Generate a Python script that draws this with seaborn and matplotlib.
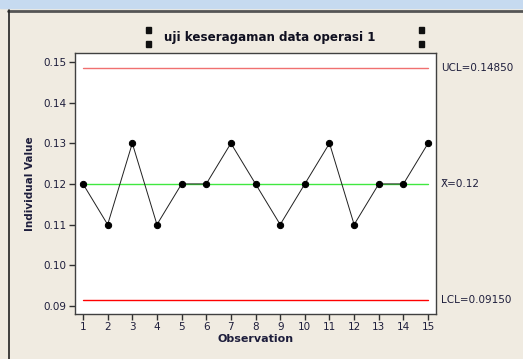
import matplotlib
matplotlib.use("Agg")

import matplotlib.pyplot as plt
import numpy as np
import pandas as pd
import seaborn as sns

# -- data ------------------------------------------------------------
observation = list(range(1, 16))
individual_value = [0.12, 0.11, 0.13, 0.11, 0.12, 0.12, 0.13, 0.12,
                    0.11, 0.12, 0.13, 0.11, 0.12, 0.12, 0.13]
ucl = 0.14850
center = 0.12
lcl = 0.09150
y_ticks = [0.09, 0.10, 0.11, 0.12, 0.13, 0.14, 0.15]

BG = "#F0EBE1"
TXT = "#1E1E3C"

sns.set_style("ticks")
plt.rcParams["font.family"] = ["DejaVu Sans"]

df = pd.DataFrame({"Observation": observation, "Individual Value": individual_value})

fig = plt.figure(figsize=(5.23, 3.59), dpi=100, facecolor=BG)
ax = fig.add_axes([0.1434, 0.1253, 0.6902, 0.7270])
ax.set_facecolor("white")

# control limits
ax.plot([observation[0], observation[-1]], [ucl, ucl], color="#F07070", lw=1)
ax.plot([observation[0], observation[-1]], [lcl, lcl], color="#FF0000", lw=1)
ax.plot([observation[0], observation[-1]], [center, center], color="#40E840", lw=1)

sns.lineplot(data=df, x="Observation", y="Individual Value", color="#202020",
             lw=0.7, marker="o", markersize=4.5, markeredgecolor="black",
             markerfacecolor="black", ax=ax)

ax.set_xlim(0.675, 15.32)
ax.set_ylim(0.0880, 0.1522)
ax.set_xticks(observation)
ax.set_yticks(y_ticks)
ax.set_yticklabels([f"{v:.2f}" for v in y_ticks])
ax.tick_params(axis="both", labelsize=7.5, colors="#303030", labelcolor=TXT,
               length=4, width=1, direction="out", pad=2)
for side in ["top", "right", "left", "bottom"]:
    ax.spines[side].set_visible(True)
    ax.spines[side].set_color("#404040")
    ax.spines[side].set_linewidth(1)

ax.set_xlabel("Observation", fontsize=8, fontweight="bold", color=TXT, labelpad=1)
ax.set_ylabel("Individual Value", fontsize=7.5, fontweight="bold", color=TXT, labelpad=6)

trans = ax.get_yaxis_transform()
ax.text(1.013, ucl, "UCL=0.14850", transform=trans, fontsize=7.5, color=TXT, va="center")
ax.text(1.013, center, "X\u0304=0.12", transform=trans, fontsize=7.5, color=TXT, va="center")
ax.text(1.013, lcl, "LCL=0.09150", transform=trans, fontsize=7.5, color=TXT, va="center")

# title and decorations
fig.text(270 / 523, 1 - 38 / 359, "uji keseragaman data operasi 1", fontsize=8.6,
         fontweight="bold", color="#101020", ha="center", va="center")
for xp in (148, 421):
    for yp in (30, 44):
        fig.patches.append(plt.Rectangle((xp / 523 - 2 / 523, 1 - yp / 359 - 2.5 / 359),
                                         5 / 523, 5 / 359, transform=fig.transFigure,
                                         color="#101010", figure=fig))

# window frame
fig.patches.append(plt.Rectangle((0, 1 - 8 / 359), 1, 8 / 359, transform=fig.transFigure,
                                 color="#C6DAF0", figure=fig))
fig.lines.append(plt.Line2D([8 / 523, 1], [1 - 10.5 / 359, 1 - 10.5 / 359],
                            transform=fig.transFigure, color="#555555", lw=2))
fig.lines.append(plt.Line2D([8.5 / 523, 8.5 / 523], [0, 1 - 10 / 359],
                            transform=fig.transFigure, color="#222222", lw=1.2))

fig.savefig("out.png", dpi=100, facecolor=BG)
